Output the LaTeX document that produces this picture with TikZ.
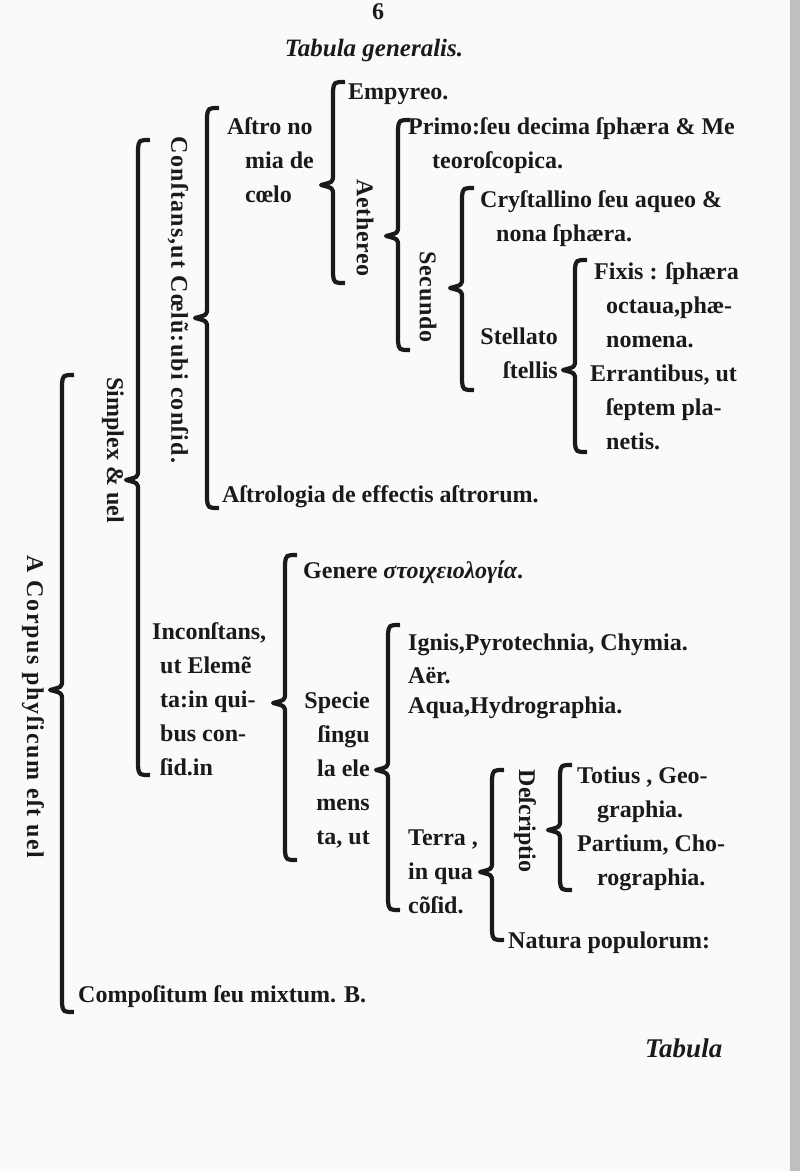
\documentclass[tikz,border=0pt]{standalone}
\usepackage{fontspec}
\setmainfont{Liberation Serif}
\newfontfamily\lsA[LetterSpace=7]{Liberation Serif}
\newfontfamily\lsB[LetterSpace=5]{Liberation Serif}
\newfontfamily\lsC[LetterSpace=3]{Liberation Serif}
\usetikzlibrary{calc}
\definecolor{ink}{HTML}{1A1A1A}
\definecolor{paper}{HTML}{FAFAF8}
\tikzset{
  txt/.style={inner sep=0pt, font=\fontsize{24}{34}\selectfont\bfseries, text=ink},
  lft/.style={txt, anchor=west, align=left},
  rgt/.style={txt, anchor=east, align=right},
  rot/.style={txt, rotate=-90},
  brc/.style={draw=ink, line width=4.2pt, line cap=butt, line join=round},
}
\newcommand\bracedraw[3]{%
  \draw[brc] ($(#1)+(12,0)$) .. controls ($(#1)+(1,0)$) .. ($(#1)+(0,9)$)
    -- ($(#2)+(0,-10)$) .. controls ($(#2)+(0,-3)$) .. ($(#2)+(-12,0)$)
    .. controls ($(#2)+(0,3)$) .. ($(#2)+(0,10)$)
    -- ($(#3)+(0,-9)$) .. controls ($(#3)+(1,0)$) .. ($(#3)+(12,0)$);}
\begin{document}
\begin{tikzpicture}[x=1pt,y=-1pt]
\useasboundingbox (0,0) rectangle (800,1171);
\fill[paper] (0,0) rectangle (800,1171);
\fill[black!25] (790,0) rectangle (800,1171);

% header
\node[txt, anchor=base] (six) at (378,19) {6};
\node[txt, font=\fontsize{25}{30}\selectfont\bfseries\itshape] (title) at (374,50) {Tabula generalis.};

% texts
\node[rot, font=\fontsize{24}{34}\selectfont\lsA\bfseries] (corpus) at (33,707) {A Corpus phyſicum eſt uel};
\node[rot] (simplex) at (113,450) {Simplex \& uel};
\node[rot, font=\fontsize{24}{34}\selectfont\lsB\bfseries] (constans) at (178,300) {Conſtans,ut Cœlũ:ubi conſid.};
\node[lft] (astronomia) at (227,160) {Aſtro no\\\hspace*{18pt}mia de\\\hspace*{18pt}cœlo};
\node[lft] (empyreo) at (348,94) {Empyreo.};
\node[rot, font=\fontsize{24}{34}\selectfont\lsC\bfseries] (aethereo) at (365,228) {Aethereo};
\node[lft] (primo) at (408,146) {Primo:ſeu decima ſphæra \& Me\\\hspace*{24pt}teoroſcopica.};
\node[rot, font=\fontsize{24}{34}\selectfont\lsC\bfseries] (secundo) at (428,297) {Secundo};
\node[lft] (cryst) at (480,219) {Cryſtallino ſeu aqueo \&\\\hspace*{16pt}nona ſphæra.};
\node[rgt] (stellato) at (558,353) {Stellato\\ſtellis};
\node[lft] (fixis) at (594,305) {Fixis : ſphæra\\\hspace*{12pt}octaua,phæ-\\\hspace*{12pt}nomena.};
\node[lft] (errant) at (590,407) {Errantibus, ut\\\hspace*{16pt}ſeptem pla-\\\hspace*{16pt}netis.};
\node[lft] (astrologia) at (222,497) {Aſtrologia de effectis aſtrorum.};

\node[lft] (genere) at (303,572) {Genere \textit{στοιχειολογία}.};
\node[lft] (inconstans) at (152,699) {Inconſtans,\\\hspace*{8pt}ut Elemẽ\\\hspace*{8pt}ta:in qui-\\\hspace*{8pt}bus con-\\\hspace*{8pt}ſid.in};
\node[rgt] (specie) at (370,770) {Specie\\ſingu\\la ele\\mens\\ta, ut};
\node[lft] (ignis) at (408,645) {Ignis,Pyrotechnia, Chymia.};
\node[lft] (aer) at (408,676) {Aër.};
\node[lft] (aqua) at (408,708) {Aqua,Hydrographia.};
\node[lft] (terra) at (408,872) {Terra ,\\in qua\\cõſid.};
\node[rot] (descriptio) at (525,821) {Deſcriptio};
\node[lft] (totius) at (577,795) {Totius , Geo-\\\hspace*{20pt}graphia.};
\node[lft] (partium) at (577,863) {Partium, Cho-\\\hspace*{20pt}rographia.};
\node[lft] (natura) at (508,943) {Natura populorum:};
\node[lft] (compositum) at (78,997) {Compoſitum ſeu mixtum. B.};
\node[lft, font=\fontsize{27}{30}\selectfont\bfseries\itshape] (tabula) at (645,1048) {Tabula};

% brace coordinates (top, tip, bottom)
\coordinate (cT) at (62,375);  \coordinate (cM) at (62,690);  \coordinate (cB) at (62,1012);
\coordinate (sT) at (138,140); \coordinate (sM) at (138,480); \coordinate (sB) at (138,775);
\coordinate (kT) at (207,108); \coordinate (kM) at (207,318); \coordinate (kB) at (207,508);
\coordinate (aT) at (333,82);  \coordinate (aM) at (333,185); \coordinate (aB) at (333,283);
\coordinate (eT) at (398,120); \coordinate (eM) at (398,236); \coordinate (eB) at (398,350);
\coordinate (dT) at (462,188); \coordinate (dM) at (462,288); \coordinate (dB) at (462,390);
\coordinate (fT) at (575,260); \coordinate (fM) at (575,370); \coordinate (fB) at (575,452);
\coordinate (iT) at (285,555); \coordinate (iM) at (285,703); \coordinate (iB) at (285,860);
\coordinate (pT) at (388,625); \coordinate (pM) at (388,770); \coordinate (pB) at (388,910);
\coordinate (tT) at (492,770); \coordinate (tM) at (492,872); \coordinate (tB) at (492,940);
\coordinate (gT) at (560,765); \coordinate (gM) at (560,830); \coordinate (gB) at (560,890);

\bracedraw{cT}{cM}{cB}
\bracedraw{sT}{sM}{sB}
\bracedraw{kT}{kM}{kB}
\bracedraw{aT}{aM}{aB}
\bracedraw{eT}{eM}{eB}
\bracedraw{dT}{dM}{dB}
\bracedraw{fT}{fM}{fB}
\bracedraw{iT}{iM}{iB}
\bracedraw{pT}{pM}{pB}
\bracedraw{tT}{tM}{tB}
\bracedraw{gT}{gM}{gB}
\end{tikzpicture}
\end{document}
